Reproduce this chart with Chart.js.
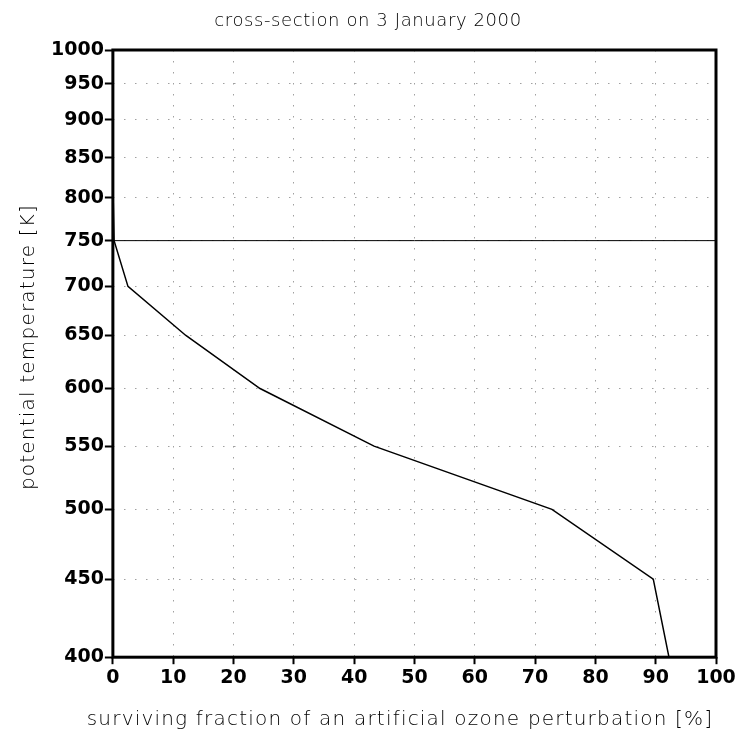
<!DOCTYPE html>
<html lang="en">
<head>
  <meta charset="UTF-8">
  <title>cross-section on 3 January 2000</title>
  <script src="https://cdn.jsdelivr.net/npm/chart.js"></script>
  <style>
    body { margin: 0; background: #fff; }
    #wrap { width: 747px; height: 729px; }
  </style>
</head>
<body>
  <div id="wrap"><canvas id="chart" width="747" height="729"></canvas></div>

  <script>
    // profile: potential temperature levels [K] and surviving fraction [%]
    const levels = [400, 450, 500, 550, 600, 650, 700, 750, 800, 850, 900, 950, 1000];
    const survival = [92.2, 89.6, 72.8, 43.3, 24.4, 12.1, 2.5, 0.2, 0.05, 0, 0, 0, 0];

    // horizontal reference line at 750 K
    const refLevel = 750;
    const refX = [0, 100];

    const yTicks = [400, 450, 500, 550, 600, 650, 700, 750, 800, 850, 900, 950, 1000];
    const xTicks = [0, 10, 20, 30, 40, 50, 60, 70, 80, 90, 100];

    const titleText = 'cross-section on 3 January 2000';
    const xTitleText = 'surviving fraction of an artificial ozone perturbation [%]';
    const yTitleText = 'potential temperature [K]';

    const thinFont = "'DejaVu Sans', sans-serif";
    const tickFont = "'DejaVu Sans', sans-serif";

    // closed box round the plot area
    const frame = {
      id: 'frame',
      afterDraw(chart) {
        const a = chart.chartArea;
        const ctx = chart.ctx;
        ctx.save();
        ctx.strokeStyle = '#000';
        ctx.lineWidth = 3;
        ctx.strokeRect(a.left, a.top, a.right - a.left, a.bottom - a.top);
        ctx.restore();
      }
    };

    // titles drawn with wide letter spacing like the original plot
    const spacedTitles = {
      id: 'spacedTitles',
      afterDraw(chart) {
        const ctx = chart.ctx;
        ctx.save();
        ctx.fillStyle = '#000';
        ctx.textAlign = 'center';
        ctx.textBaseline = 'alphabetic';

        ctx.font = `300 18px ${thinFont}`;
        ctx.letterSpacing = '0.6px';
        ctx.fillText(titleText, 368, 26);

        ctx.font = `300 20px ${thinFont}`;
        ctx.letterSpacing = '1.2px';
        ctx.fillText(xTitleText, 400, 725);

        ctx.translate(34, 347);
        ctx.rotate(-Math.PI / 2);
        ctx.fillText(yTitleText, 0, 0);
        ctx.restore();
      }
    };

    const gridOpts = {
      color: '#a0a0a0',
      lineWidth: 1,
      tickColor: '#000',
      tickBorderDash: [],
      tickWidth: 2
    };

    new Chart(document.getElementById('chart'), {
      type: 'line',
      data: {
        datasets: [{
          data: levels.map((y, i) => ({ x: survival[i], y: y })),
          borderColor: '#000',
          borderWidth: 1.5,
          pointRadius: 0,
          tension: 0
        }, {
          data: refX.map(x => ({ x: x, y: refLevel })),
          borderColor: '#000',
          borderWidth: 1,
          pointRadius: 0
        }]
      },
      plugins: [frame, spacedTitles],
      options: {
        responsive: false,
        animation: false,
        layout: { padding: { left: 50, right: 31, top: 50, bottom: 38 } },
        scales: {
          x: {
            type: 'linear',
            min: 0, max: 100,
            afterBuildTicks: s => { s.ticks = xTicks.map(v => ({ value: v })); },
            grid: Object.assign({ tickLength: 7 }, gridOpts),
            border: { display: false, dash: [1.5, 9.5] },
            ticks: {
              color: '#000',
              font: { family: tickFont, size: 19, weight: 'bold' },
              padding: 2,
              maxRotation: 0
            }
          },
          y: {
            type: 'logarithmic',
            min: 400, max: 1000,
            afterBuildTicks: s => { s.ticks = yTicks.map(v => ({ value: v })); },
            grid: Object.assign({ tickLength: 8 }, gridOpts),
            border: { display: false, dash: [1.5, 9.5] },
            ticks: {
              color: '#000',
              font: { family: tickFont, size: 19, weight: 'bold' },
              padding: 1,
              callback: v => String(v)
            }
          }
        },
        plugins: {
          legend: { display: false },
          tooltip: { enabled: false },
          title: { display: false }
        }
      }
    });
  </script>
</body>
</html>
